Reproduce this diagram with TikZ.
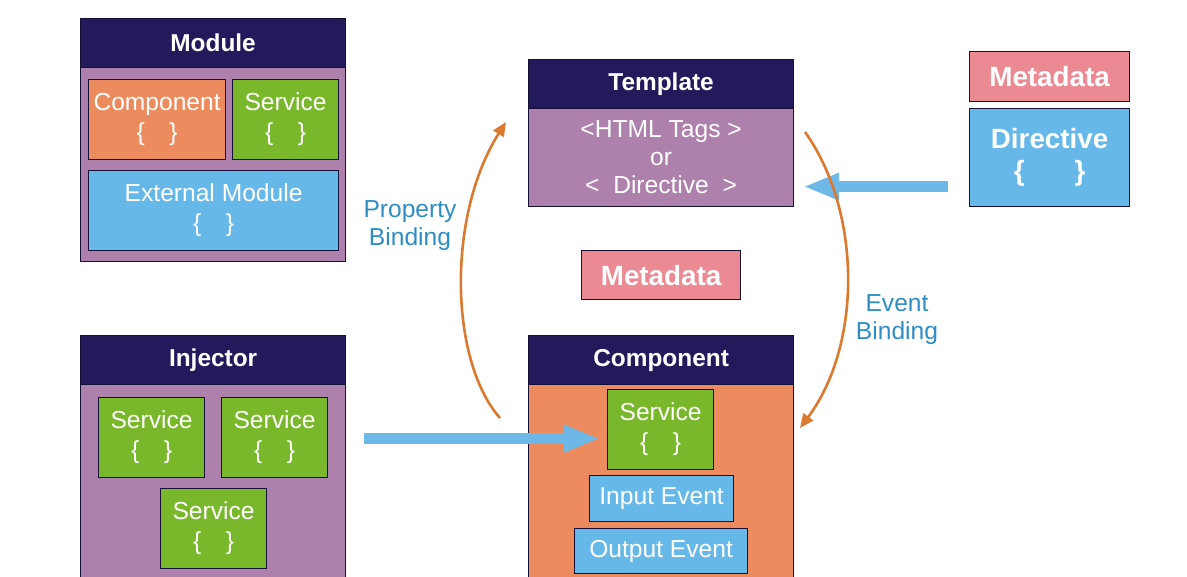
\documentclass[tikz,border=0pt]{standalone}
\usepackage{fontspec}
\setmainfont{Liberation Sans}
\usetikzlibrary{arrows.meta,calc}

\definecolor{hdrnavy}{RGB}{35,26,92}
\definecolor{bodypurple}{RGB}{174,128,172}
\definecolor{compred}{RGB}{236,140,94}
\definecolor{svcgreen}{RGB}{120,184,42}
\definecolor{extblue}{RGB}{102,184,232}
\definecolor{metapink}{RGB}{236,138,147}
\definecolor{bindorange}{RGB}{217,122,48}
\definecolor{flowblue}{RGB}{109,184,230}
\definecolor{lblblue}{RGB}{46,142,196}

\begin{document}
\begin{tikzpicture}[x=0.5pt,y=-0.5pt,
    box/.style={draw=hdrnavy!60!black, line width=0.6pt, inner sep=0pt,
        anchor=north west, align=center, text=white,
        font=\fontsize{12.3}{15}\selectfont},
    hdr/.style={box, fill=hdrnavy, minimum width=132.5pt, minimum height=24.5pt,
        font=\bfseries\fontsize{12.2}{14}\selectfont},
    panel/.style={box, minimum width=132.5pt},
    svcbox/.style={box, fill=svcgreen, minimum width=53pt, minimum height=40pt},
    evbox/.style={box, fill=extblue, minimum height=23pt},
    metabox/.style={box, fill=metapink, minimum width=80pt, minimum height=25pt,
        font=\bfseries\fontsize{13.9}{16}\selectfont},
    flow/.style={draw=flowblue, line width=5.5pt, -{Triangle[length=18pt,width=12.5pt]}},
    bind/.style={draw=bindorange, line width=1.3pt, -{Triangle[length=7pt,width=6pt]}},
    lbl/.style={align=center, text=lblblue, font=\fontsize{12.3}{14}\selectfont}]
    \useasboundingbox (0,0) rectangle (1187,577);
    \fill[white] (0,0) rectangle (1187,577);

    % Module
    \node[hdr] (modhdr) at (80,18) {Module};
    \node[panel, fill=bodypurple, minimum height=97pt] (modbody) at (80,67) {};
    \node[box, fill=compred, minimum width=68.5pt, minimum height=40pt] (modcomp) at (88,79) {Component\\\{\hspace{1em}\}};
    \node[svcbox] (modsvc) at (232,79) {Service\\\{\hspace{1em}\}};
    \node[box, fill=extblue, minimum width=125pt, minimum height=40pt] (modext) at (88,170) {External Module\\\{\hspace{1em}\}};

    % Template
    \node[hdr] (tplhdr) at (528,59) {Template};
    \node[panel, fill=bodypurple, minimum height=49pt, font=\fontsize{12.3}{14}\selectfont] (tplbody) at (528,108)
        {<HTML Tags >\\or\\<\ \ Directive\ \ >};

    % Metadata / Directive
    \node[metabox] (meta) at (969,51) {Metadata};
    \node[box, fill=extblue, minimum width=80pt, minimum height=49pt,
        font=\bfseries\fontsize{13.9}{16}\selectfont] (dir) at (969,108) {Directive\\\{\hspace{1.8em}\}};
    \node[metabox, minimum width=79.5pt, minimum height=24.5pt] (midmeta) at (581,250) {Metadata};

    % Injector
    \node[hdr] (injhdr) at (80,335) {Injector};
    \node[panel, fill=bodypurple, minimum height=96.5pt] (injbody) at (80,384) {};
    \node[svcbox] (injsvca) at (98,397) {Service\\\{\hspace{1em}\}};
    \node[svcbox] (injsvcb) at (221,397) {Service\\\{\hspace{1em}\}};
    \node[svcbox] (injsvcc) at (160,488) {Service\\\{\hspace{1em}\}};

    % Component
    \node[hdr] (comphdr) at (528,335) {Component};
    \node[panel, fill=compred, minimum height=96.5pt] (compbody) at (528,384) {};
    \node[svcbox] (csvc) at (607,389) {Service\\\{\hspace{1em}\}};
    \node[evbox, minimum width=72pt] (inev) at (589,475) {Input Event};
    \node[evbox, minimum width=86.5pt, minimum height=22.5pt] (outev) at (574,528) {Output Event};

    % Стрелки
    \coordinate (injout) at ($(csvc.west -| injbody.east)+(0,9)$);
    \coordinate (svcin) at ($(csvc.west)+(0,9)$);
    \draw[flow, shorten <=9pt, shorten >=3.5pt] (injout) -- (svcin);
    \coordinate (dirout) at ($(dir.west)+(0,29)$);
    \coordinate (tplin) at ($(tplbody.east)+(0,29)$);
    \draw[flow, shorten <=10.5pt, shorten >=4.5pt] (dirout) -- (tplin);

    \coordinate (pbfrom) at (500,418);
    \coordinate (pbto) at (506,122);
    \draw[bind] (pbfrom) .. controls (449,360) and (447,215) .. (pbto);
    \coordinate (evfrom) at (805,132);
    \coordinate (evto) at (800,428);
    \draw[bind] (evfrom) .. controls (862,212) and (862,345) .. (evto);

    \node[lbl] (pblbl) at (410,226) {Property\\Binding};
    \node[lbl] (evlbl) at (897,320) {Event\\Binding};
\end{tikzpicture}
\end{document}
